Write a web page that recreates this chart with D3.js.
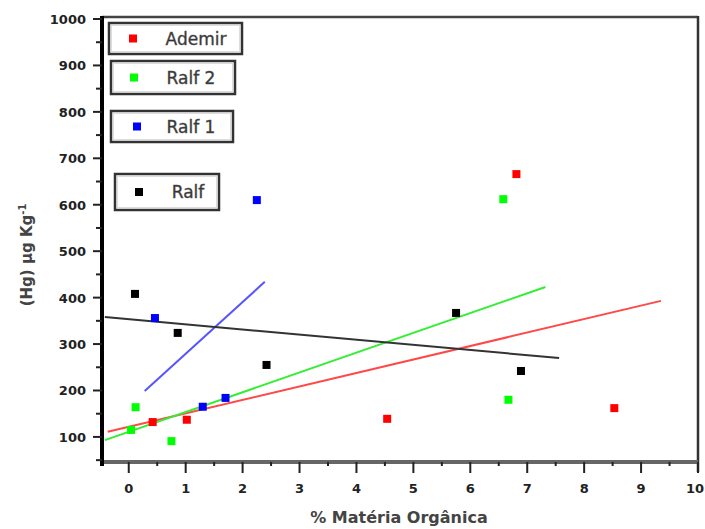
<!DOCTYPE html>
<html>
<head>
<meta charset="utf-8">
<script src="https://cdn.jsdelivr.net/npm/d3@7"></script>
<style>
  body { margin: 0; background: #fff; }
  text { font-family: "DejaVu Sans", Arial, sans-serif; }
</style>
</head>
<body>
<script>
// series: [% materia organica, Hg ug/kg]
var ademir = [[0.42, 132], [1.02, 137], [4.54, 139], [6.81, 666], [8.53, 162]];
var ralf2 = [[0.04, 115], [0.12, 164], [0.75, 91], [6.58, 612], [6.67, 180]];
var ralf1 = [[0.46, 356], [1.30, 165], [1.70, 184], [2.25, 610]];
var ralf = [[0.11, 408], [0.86, 324], [2.42, 255], [5.75, 367], [6.89, 242]];

// fitted lines, endpoints
var fitAdemir = [[-0.37, 111], [9.35, 393]];
var fitRalf2 = [[-0.42, 93], [7.32, 423]];
var fitRalf1 = [[0.28, 199], [2.39, 434]];
var fitRalf = [[-0.42, 358], [7.56, 270]];

var xTicks = [0, 1, 2, 3, 4, 5, 6, 7, 8, 9, 10];
var yTicks = [100, 200, 300, 400, 500, 600, 700, 800, 900, 1000];
var legendNames = ["Ademir", "Ralf 2", "Ralf 1", "Ralf"];

var W = 705, H = 529;
var svg = d3.select("body").append("svg")
  .attr("width", W)
  .attr("height", H);

var x = d3.scaleLinear().domain([-0.47, 10]).range([102, 698]);
var y = d3.scaleLinear().domain([46, 1000]).range([462, 19]);

var series = [
  {data: ademir, fit: fitAdemir, dot: "#ff0000", line: "#ff4848"},
  {data: ralf2, fit: fitRalf2, dot: "#00ff00", line: "#33ee33"},
  {data: ralf1, fit: fitRalf1, dot: "#0000ff", line: "#5555ff"},
  {data: ralf, fit: fitRalf, dot: "#000000", line: "#333333"}
];

// frame top + right
svg.append("line").attr("x1", 102).attr("x2", 698).attr("y1", 17).attr("y2", 17)
  .attr("stroke", "#444").attr("stroke-width", 2.5);
svg.append("line").attr("x1", 698).attr("x2", 698).attr("y1", 16).attr("y2", 472)
  .attr("stroke", "#333").attr("stroke-width", 2.5);

// x axis
var xAxis = svg.append("g").attr("transform", "translate(0,462)");
xAxis.append("line").attr("x1", 102).attr("x2", 698).attr("y1", 0).attr("y2", 0)
  .attr("stroke", "#666").attr("stroke-width", 4);
xAxis.selectAll(".mj").data(xTicks).enter().append("line")
  .attr("x1", d => x(d)).attr("x2", d => x(d)).attr("y1", 0).attr("y2", 11)
  .attr("stroke", "#222").attr("stroke-width", 2);
xAxis.selectAll(".mn").data(d3.range(-0.5, 10, 1).filter(d => d > -0.47)).enter().append("line")
  .attr("x1", d => x(d)).attr("x2", d => x(d)).attr("y1", 0).attr("y2", 4)
  .attr("stroke", "#222").attr("stroke-width", 2);
xAxis.selectAll("text").data(xTicks).enter().append("text")
  .attr("x", d => Math.min(x(d), W - 10)).attr("y", 31)
  .attr("text-anchor", "middle")
  .attr("font-size", 13).attr("font-weight", "bold").attr("fill", "#222")
  .text(d => d);

// y axis
var yAxis = svg.append("g");
yAxis.append("line").attr("x1", 102).attr("x2", 102).attr("y1", 16).attr("y2", 466)
  .attr("stroke", "#000").attr("stroke-width", 4);
yAxis.selectAll(".mj").data(yTicks).enter().append("line")
  .attr("x1", 93).attr("x2", 102).attr("y1", d => y(d)).attr("y2", d => y(d))
  .attr("stroke", "#222").attr("stroke-width", 2);
yAxis.selectAll(".mn").data(d3.range(50, 1000, 100)).enter().append("line")
  .attr("x1", 96).attr("x2", 102).attr("y1", d => y(d)).attr("y2", d => y(d))
  .attr("stroke", "#222").attr("stroke-width", 2);
yAxis.selectAll("text").data(yTicks).enter().append("text")
  .attr("x", 86).attr("y", d => y(d) + 5)
  .attr("text-anchor", "end")
  .attr("font-size", 13).attr("font-weight", "bold").attr("fill", "#222")
  .text(d => d);

// axis titles
svg.append("text")
  .attr("transform", "translate(32,255) rotate(-90)")
  .attr("text-anchor", "middle")
  .attr("font-size", 15).attr("font-weight", "bold").attr("fill", "#444")
  .html('(Hg) µg Kg<tspan dy="-6" font-size="10">-1</tspan>');
svg.append("text")
  .attr("x", 399).attr("y", 523)
  .attr("text-anchor", "middle")
  .attr("font-size", 16).attr("font-weight", "bold").attr("fill", "#444")
  .text("% Matéria Orgânica");

// fit lines
var line = d3.line().x(d => x(d[0])).y(d => y(d[1]));
series.forEach(function(s) {
  svg.append("path").attr("d", line(s.fit))
    .attr("fill", "none").attr("stroke", s.line).attr("stroke-width", 2);
});

// points
series.forEach(function(s) {
  svg.selectAll(null).data(s.data).enter().append("rect")
    .attr("x", d => x(d[0]) - 4).attr("y", d => y(d[1]) - 4)
    .attr("width", 8).attr("height", 8)
    .attr("fill", s.dot);
});

// legend boxes
var boxes = [
  {x: 109, y: 23, w: 133, h: 31, mx: 133, tx: 196},
  {x: 111, y: 61, w: 124, h: 33, mx: 134, tx: 191},
  {x: 111, y: 111, w: 122, h: 31, mx: 137, tx: 191},
  {x: 115, y: 174, w: 104, h: 36, mx: 139, tx: 188}
];
boxes.forEach(function(b, i) {
  var g = svg.append("g");
  g.append("rect").attr("x", b.x).attr("y", b.y).attr("width", b.w).attr("height", b.h)
    .attr("fill", "#fff").attr("stroke", "#333").attr("stroke-width", 2.5);
  g.append("rect").attr("x", b.x + 2.5).attr("y", b.y + 2.5).attr("width", b.w - 5).attr("height", b.h - 5)
    .attr("fill", "none").attr("stroke", "#ddd").attr("stroke-width", 1);
  g.append("rect").attr("x", b.mx - 4).attr("y", b.y + b.h / 2 - 4).attr("width", 8).attr("height", 8)
    .attr("fill", series[i].dot);
  g.append("text").attr("x", b.tx).attr("y", b.y + b.h / 2 + 6)
    .attr("text-anchor", "middle")
    .attr("font-size", 17).attr("fill", "#333")
    .attr("stroke", "#555").attr("stroke-width", 0.4)
    .text(legendNames[i]);
});
</script>
</body>
</html>
